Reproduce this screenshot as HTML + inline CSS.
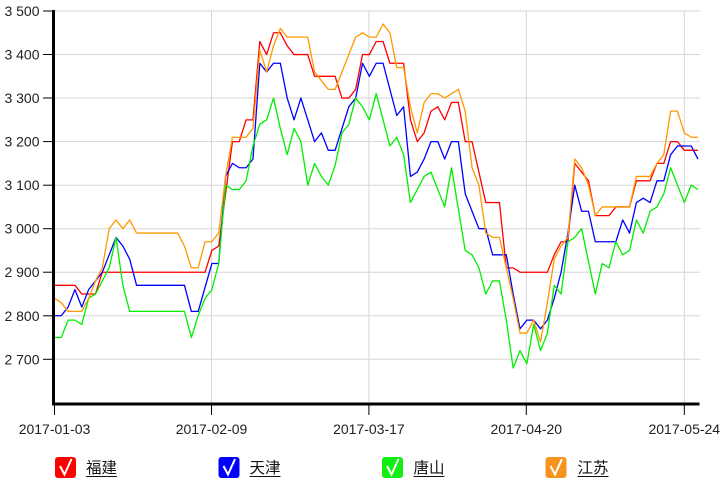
<!DOCTYPE html>
<html>
<head>
<meta charset="utf-8">
<style>
html,body{margin:0;padding:0;background:#fff;}
svg{display:block;}
.t{font-family:"Liberation Sans",Arial,sans-serif;font-size:14px;fill:#222;}
.lg{font-family:"Liberation Sans","Noto Sans CJK SC",sans-serif;font-size:15.5px;fill:#111;}
</style>
</head>
<body>
<svg width="724" height="489" viewBox="0 0 724 489" xmlns="http://www.w3.org/2000/svg">
<rect x="0" y="0" width="724" height="489" fill="#fff"/>
<!-- horizontal grid -->
<g stroke="#d6d6d6" stroke-width="1">
<line x1="55" y1="11" x2="700" y2="11"/>
<line x1="55" y1="54.5" x2="700" y2="54.5"/>
<line x1="55" y1="98" x2="700" y2="98"/>
<line x1="55" y1="141.6" x2="700" y2="141.6"/>
<line x1="55" y1="185.2" x2="700" y2="185.2"/>
<line x1="55" y1="228.7" x2="700" y2="228.7"/>
<line x1="55" y1="272.2" x2="700" y2="272.2"/>
<line x1="55" y1="315.8" x2="700" y2="315.8"/>
<line x1="55" y1="359.3" x2="700" y2="359.3"/>
<line x1="211.5" y1="11" x2="211.5" y2="403"/>
<line x1="368.9" y1="11" x2="368.9" y2="403"/>
<line x1="526.3" y1="11" x2="526.3" y2="403"/>
<line x1="684.3" y1="11" x2="684.3" y2="403"/>
</g>
<!-- series -->
<g fill="none" stroke-width="1.3" stroke-linejoin="round" transform="matrix(6.847 0 0 -0.43538 54.4 1534.83)">
<polyline vector-effect="non-scaling-stroke" stroke="#ff0000" points="0,2870 3,2870 4,2850 6,2850 7,2900 22,2900 23,2950 24,2960 25,3080 26,3200 27,3200 28,3250 29,3250 30,3430 31,3400 32,3450 33,3450 34,3420 35,3400 37,3400 38,3350 41,3350 42,3300 43,3300 44,3320 45,3400 46,3400 47,3430 48,3430 49,3380 51,3380 52,3250 53,3200 54,3220 55,3270 56,3280 57,3250 58,3290 59,3290 60,3200 61,3200 62,3130 63,3060 65,3060 66,2910 67,2910 68,2900 72,2900 73,2940 74,2970 75,2970 76,3150 77,3130 78,3110 79,3030 81,3030 82,3050 84,3050 85,3110 87,3110 88,3150 89,3150 90,3200 91,3200 92,3180 94,3180"/>
<polyline vector-effect="non-scaling-stroke" stroke="#0000ff" points="0,2800 1,2800 2,2820 3,2860 4,2820 5,2860 6,2880 7,2900 8,2940 9,2980 10,2960 11,2930 12,2870 19,2870 20,2810 21,2810 22,2865 23,2920 24,2920 25,3120 26,3150 27,3140 28,3140 29,3160 30,3380 31,3360 32,3380 33,3380 34,3300 35,3250 36,3300 37,3250 38,3200 39,3220 40,3180 41,3180 42,3230 43,3280 44,3300 45,3380 46,3350 47,3380 48,3380 49,3320 50,3260 51,3280 52,3120 53,3130 54,3160 55,3200 56,3200 57,3160 58,3200 59,3200 60,3080 61,3040 62,3000 63,3000 64,2940 66,2940 67,2850 68,2770 69,2790 70,2790 71,2770 72,2790 73,2840 74,2900 75,2990 76,3100 77,3040 78,3040 79,2970 82,2970 83,3020 84,2990 85,3060 86,3070 87,3060 88,3110 89,3110 90,3170 91,3190 93,3190 94,3160"/>
<polyline vector-effect="non-scaling-stroke" stroke="#00ee00" points="0,2750 1,2750 2,2790 3,2790 4,2780 5,2840 6,2850 7,2880 8,2910 9,2980 10,2870 11,2810 19,2810 20,2750 21,2800 22,2840 23,2860 24,2920 25,3100 26,3090 27,3090 28,3110 29,3190 30,3240 31,3250 32,3300 33,3230 34,3170 35,3230 36,3200 37,3100 38,3150 39,3120 40,3100 41,3145 42,3220 43,3240 44,3300 45,3280 46,3250 47,3310 48,3250 49,3190 50,3210 51,3170 52,3060 53,3090 54,3120 55,3130 56,3090 57,3050 58,3140 59,3045 60,2950 61,2940 62,2910 63,2850 64,2880 65,2880 66,2790 67,2680 68,2720 69,2690 70,2780 71,2720 72,2760 73,2870 74,2850 75,2970 76,2980 77,3000 78,2925 79,2850 80,2920 81,2910 82,2970 83,2940 84,2950 85,3020 86,2990 87,3040 88,3050 89,3080 90,3140 91,3100 92,3060 93,3100 94,3090"/>
<polyline vector-effect="non-scaling-stroke" stroke="#ff9900" points="0,2840 1,2830 2,2810 4,2810 5,2840 6,2880 7,2910 8,3000 9,3020 10,3000 11,3020 12,2990 18,2990 19,2960 20,2910 21,2910 22,2970 23,2970 24,2990 25,3120 26,3210 28,3210 29,3230 30,3410 31,3360 32,3420 33,3460 34,3440 37,3440 38,3360 39,3340 40,3320 41,3320 42,3360 43,3400 44,3440 45,3450 46,3440 47,3440 48,3470 49,3450 50,3370 51,3370 52,3280 53,3220 54,3290 55,3310 56,3310 57,3300 58,3310 59,3320 60,3270 61,3140 62,3100 63,2990 64,2980 65,2980 66,2910 67,2840 68,2760 69,2760 70,2790 71,2740 72,2830 73,2930 74,2960 75,2980 76,3160 77,3140 78,3100 79,3030 80,3050 84,3050 85,3120 87,3120 88,3150 89,3170 90,3270 91,3270 92,3220 93,3210 94,3210"/>
</g>
<!-- axes -->
<line x1="53.5" y1="10" x2="53.5" y2="405.5" stroke="#000" stroke-width="3"/>
<line x1="52" y1="404" x2="699.5" y2="404" stroke="#000" stroke-width="3"/>
<g stroke="#000" stroke-width="1">
<line x1="43" y1="11" x2="53" y2="11"/>
<line x1="43" y1="54.5" x2="53" y2="54.5"/>
<line x1="43" y1="98" x2="53" y2="98"/>
<line x1="43" y1="141.6" x2="53" y2="141.6"/>
<line x1="43" y1="185.2" x2="53" y2="185.2"/>
<line x1="43" y1="228.7" x2="53" y2="228.7"/>
<line x1="43" y1="272.2" x2="53" y2="272.2"/>
<line x1="43" y1="315.8" x2="53" y2="315.8"/>
<line x1="43" y1="359.3" x2="53" y2="359.3"/>
<line x1="54.5" y1="405" x2="54.5" y2="415"/>
<line x1="211.5" y1="405" x2="211.5" y2="415"/>
<line x1="368.9" y1="405" x2="368.9" y2="415"/>
<line x1="526.3" y1="405" x2="526.3" y2="415"/>
<line x1="684.3" y1="405" x2="684.3" y2="415"/>
</g>
<g class="t" text-anchor="end">
<text x="39.5" y="16">3 500</text>
<text x="39.5" y="59.5">3 400</text>
<text x="39.5" y="103">3 300</text>
<text x="39.5" y="146.6">3 200</text>
<text x="39.5" y="190.2">3 100</text>
<text x="39.5" y="233.7">3 000</text>
<text x="39.5" y="277.2">2 900</text>
<text x="39.5" y="320.8">2 800</text>
<text x="39.5" y="364.3">2 700</text>
</g>
<g class="t" text-anchor="middle">
<text x="54.5" y="434">2017-01-03</text>
<text x="211.5" y="434">2017-02-09</text>
<text x="368.9" y="434">2017-03-17</text>
<text x="526.3" y="434">2017-04-20</text>
<text x="684.3" y="434">2017-05-24</text>
</g>
<!-- legend -->
<g>
<rect x="55" y="457" width="21" height="21" rx="3" fill="#ff0000"/>
<polyline points="60,466 64.5,474.5 71.5,459" fill="none" stroke="#fff" stroke-width="2"/>
<text class="lg" x="86" y="473">福建</text>
<line x1="86" y1="476.5" x2="117" y2="476.5" stroke="#111" stroke-width="1"/>

<rect x="218.5" y="457" width="21" height="21" rx="3" fill="#0000ff"/>
<polyline points="223.5,466 228,474.5 235,459" fill="none" stroke="#fff" stroke-width="2"/>
<text class="lg" x="249.5" y="473">天津</text>
<line x1="249.5" y1="476.5" x2="280.5" y2="476.5" stroke="#111" stroke-width="1"/>

<rect x="382" y="457" width="21" height="21" rx="3" fill="#11ee11"/>
<polyline points="387,466 391.5,474.5 398.5,459" fill="none" stroke="#fff" stroke-width="2"/>
<text class="lg" x="413.5" y="473">唐山</text>
<line x1="413.5" y1="476.5" x2="444.5" y2="476.5" stroke="#111" stroke-width="1"/>

<rect x="545.5" y="457" width="21" height="21" rx="3" fill="#f7941d"/>
<polyline points="550.5,466 555,474.5 562,459" fill="none" stroke="#fff" stroke-width="2"/>
<text class="lg" x="577.5" y="473">江苏</text>
<line x1="577.5" y1="476.5" x2="608.5" y2="476.5" stroke="#111" stroke-width="1"/>
</g>
</svg>
</body>
</html>
